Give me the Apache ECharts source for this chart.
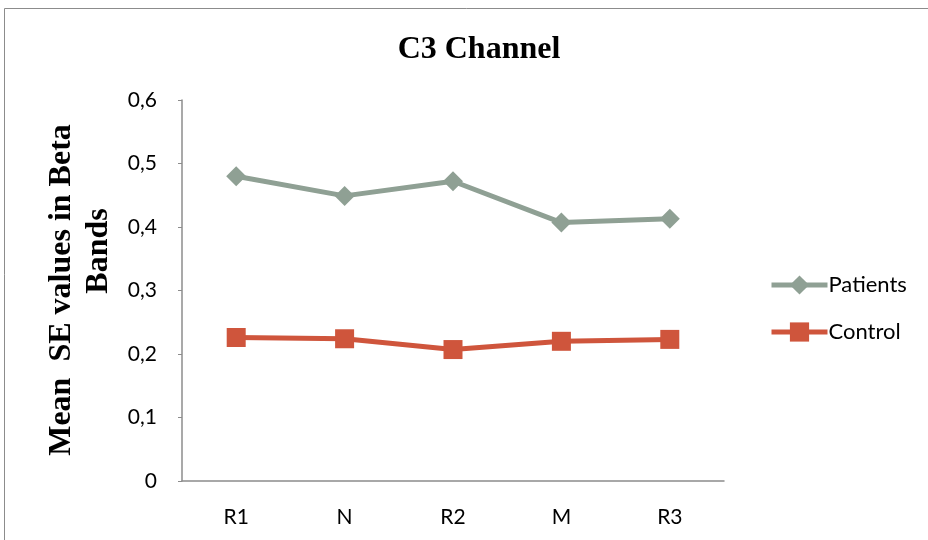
<!DOCTYPE html>
<html>
<head>
<meta charset="utf-8">
<script src="https://cdn.jsdelivr.net/npm/echarts@6/dist/echarts.min.js"></script>
<style>
  html, body { margin: 0; padding: 0; background: #fff; }
  #chart { width: 928px; height: 540px; }
</style>
</head>
<body>
<div id="chart"></div>
<script>
// Recording phases along the x axis
const categories = ['R1', 'N', 'R2', 'M', 'R3'];
// Mean SE values in the beta band, C3 channel
const patients = [0.480, 0.449, 0.472, 0.407, 0.413];
const control = [0.226, 0.224, 0.207, 0.220, 0.223];
// Value axis range
const yMin = 0, yMax = 0.6, yStep = 0.1;

const chart = echarts.init(document.getElementById('chart'));
const labelFont = 'Lato, "Open Sans", sans-serif';
const serif = '"Liberation Serif", serif';
const titleStyle = { fontFamily: serif, fontWeight: 'bold', fontSize: 32, fill: '#000' };

chart.setOption({
  animation: false,
  backgroundColor: '#fff',
  title: {
    text: 'C3 Channel',
    left: 474,
    top: 29,
    textAlign: 'center',
    textStyle: { fontFamily: serif, fontWeight: 'bold', fontSize: 32, color: '#000' }
  },
  graphic: [
    {
      type: 'rect',
      shape: { x: 4.5, y: 8.5, width: 940, height: 560 },
      style: { fill: 'none', stroke: '#8c8c8c', lineWidth: 1 },
      silent: true
    },
    // value axis title, two rotated lines
    {
      type: 'text',
      x: 62, y: 290, rotation: Math.PI / 2,
      style: Object.assign({ text: 'Mean  SE values in Beta', align: 'center', verticalAlign: 'middle' }, titleStyle),
      silent: true
    },
    {
      type: 'text',
      x: 99, y: 251, rotation: Math.PI / 2,
      style: Object.assign({ text: 'Bands', align: 'center', verticalAlign: 'middle' }, titleStyle),
      silent: true
    }
  ],
  legend: {
    orient: 'vertical',
    left: 764,
    top: 269,
    itemGap: 25,
    itemWidth: 56,
    itemHeight: 24,
    lineStyle: { width: 5 },
    textStyle: { fontFamily: labelFont, fontSize: 22, color: '#000', padding: [0, 0, 0, -4] },
    data: ['Patients', 'Control']
  },
  grid: { left: 182, top: 100, right: 204, bottom: 59, containLabel: false },
  xAxis: {
    type: 'category',
    data: categories,
    boundaryGap: true,
    axisLine: { lineStyle: { color: '#8c8c8c', width: 1.5 } },
    axisTick: { show: false },
    axisLabel: { fontFamily: labelFont, fontSize: 21, color: '#000', margin: 26 }
  },
  yAxis: {
    type: 'value',
    min: yMin,
    max: yMax,
    interval: yStep,
    axisLine: { show: true, lineStyle: { color: '#8c8c8c', width: 1.5 } },
    axisTick: { show: true, length: 4, lineStyle: { color: '#8c8c8c' } },
    splitLine: { show: false },
    axisLabel: {
      fontFamily: labelFont, fontSize: 21, color: '#000', margin: 25,
      formatter: v => (Math.round(v * 10) / 10).toString().replace('.', ',')
    }
  },
  series: [
    {
      name: 'Patients',
      type: 'line',
      data: patients,
      symbol: 'diamond',
      symbolSize: 20,
      color: '#8fa094',
      lineStyle: { width: 5, color: '#8fa094' },
      itemStyle: { color: '#8fa094' }
    },
    {
      name: 'Control',
      type: 'line',
      data: control,
      symbol: 'rect',
      symbolSize: 19,
      color: '#cf553c',
      lineStyle: { width: 5, color: '#cf553c' },
      itemStyle: { color: '#cf553c' }
    }
  ]
});
</script>
</body>
</html>
